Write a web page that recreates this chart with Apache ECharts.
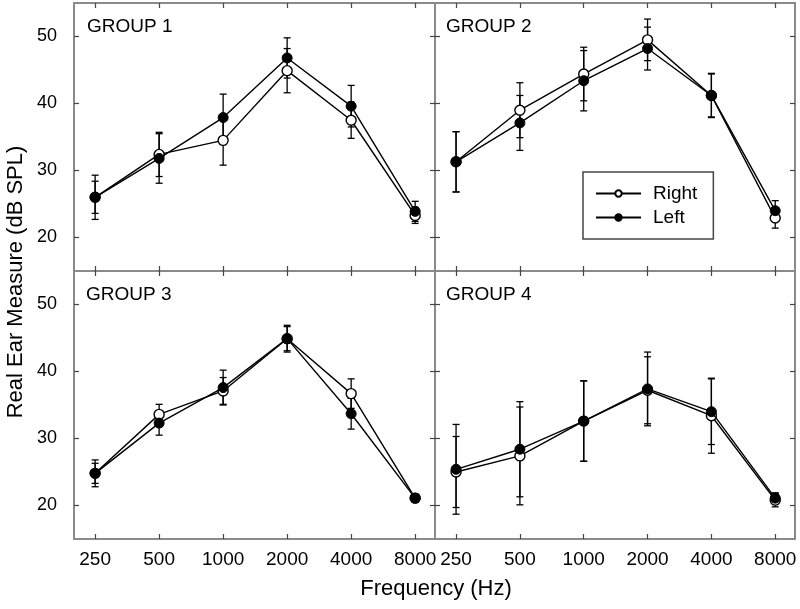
<!DOCTYPE html>
<html>
<head>
<meta charset="utf-8">
<script src="https://cdn.jsdelivr.net/npm/echarts@6/dist/echarts.min.js"></script>
<style>
  html, body { margin: 0; padding: 0; background: #fff; }
  #chart { width: 800px; height: 609px; }
</style>
</head>
<body>
<div id="chart"></div>
<script>
// ---- Data ----
const freqLabels = ['250', '500', '1000', '2000', '4000', '8000'];
const yTicks = [20, 30, 40, 50];
const groupNames = ['GROUP 1', 'GROUP 2', 'GROUP 3', 'GROUP 4'];

const g1RightMean = [26.0, 32.4, 34.5, 44.9, 37.5, 23.3];
const g1RightErr  = [2.4, 3.3, 3.7, 3.3, 2.7, 1.2];
const g1LeftMean  = [26.0, 31.8, 37.9, 46.8, 39.6, 23.9];
const g1LeftErr   = [3.3, 3.7, 3.5, 3.0, 3.1, 1.5];

const g2RightMean = [31.3, 39.0, 44.4, 49.5, 41.2, 22.9];
const g2RightErr  = [4.5, 4.1, 4.0, 3.1, 3.3, 1.5];
const g2LeftMean  = [31.3, 37.1, 43.4, 48.2, 41.2, 24.0];
const g2LeftErr   = [4.5, 4.1, 4.5, 3.2, 3.2, 1.5];

const g3RightMean = [24.8, 33.6, 37.1, 44.9, 36.7, 21.1];
const g3RightErr  = [1.5, 1.5, 2.0, 1.8, 2.2, 0.5];
const g3LeftMean  = [24.8, 32.3, 37.6, 44.9, 33.7, 21.1];
const g3LeftErr   = [2.0, 1.8, 2.6, 2.0, 2.3, 0.6];

const g4RightMean = [25.0, 27.4, 32.6, 37.2, 33.4, 20.8];
const g4RightErr  = [5.3, 7.3, 6.0, 5.0, 5.6, 1.0];
const g4LeftMean  = [25.4, 28.4, 32.6, 37.4, 34.0, 21.1];
const g4LeftErr   = [6.7, 7.1, 6.0, 5.5, 4.9, 0.8];

const groups = [
  { right: g1RightMean, rightErr: g1RightErr, left: g1LeftMean, leftErr: g1LeftErr },
  { right: g2RightMean, rightErr: g2RightErr, left: g2LeftMean, leftErr: g2LeftErr },
  { right: g3RightMean, rightErr: g3RightErr, left: g3LeftMean, leftErr: g3LeftErr },
  { right: g4RightMean, rightErr: g4RightErr, left: g4LeftMean, leftErr: g4LeftErr }
];

// ---- Layout ----
const FONT = 'Liberation Sans, Arial, Helvetica, sans-serif';
const gridBoxes = [
  { left: 74,  top: 3,   width: 361, height: 268 },
  { left: 435, top: 3,   width: 360, height: 268 },
  { left: 74,  top: 271, width: 361, height: 268 },
  { left: 435, top: 271, width: 360, height: 268 }
];
const XMIN = -0.33, XMAX = 5.31, YMIN = 15, YMAX = 55;
const tickIdx = freqLabels.map((_, i) => i);
const frameColor = '#8a8a8a';
const tickColor = '#444';

const grid = gridBoxes.map(b => ({ left: b.left, top: b.top, width: b.width, height: b.height, containLabel: false }));
const xAxis = [], yAxis = [];
gridBoxes.forEach((b, g) => {
  const showX = g >= 2, showY = (g % 2) === 0;
  const xBase = {
    type: 'value', gridIndex: g, min: XMIN, max: XMAX,
    splitLine: { show: false },
    axisLine: { show: true, onZero: false, lineStyle: { color: frameColor, width: 2 } },
    axisTick: { show: true, inside: true, length: 5, customValues: tickIdx, lineStyle: { color: tickColor, width: 1.2 } }
  };
  xAxis.push(Object.assign({}, xBase, {
    position: 'bottom',
    axisLabel: {
      show: showX, customValues: tickIdx, margin: 11,
      formatter: v => freqLabels[Math.round(v)],
      fontFamily: FONT, fontSize: 19, color: '#000'
    }
  }));
  xAxis.push(Object.assign({}, xBase, { position: 'top', axisLabel: { show: false } }));
  const yBase = {
    type: 'value', gridIndex: g, min: YMIN, max: YMAX,
    splitLine: { show: false },
    axisLine: { show: true, onZero: false, lineStyle: { color: frameColor, width: 2 } },
    axisTick: { show: true, inside: true, length: 5, customValues: yTicks, lineStyle: { color: tickColor, width: 1.2 } }
  };
  yAxis.push(Object.assign({}, yBase, {
    position: 'left',
    axisLabel: { show: showY, customValues: yTicks, margin: 17, fontFamily: FONT, fontSize: 18, color: '#000' }
  }));
  yAxis.push(Object.assign({}, yBase, { position: 'right', axisLabel: { show: false } }));
});

function errRender(params, api) {
  const x = api.value(0), lo = api.value(1), hi = api.value(2);
  const pLo = api.coord([x, lo]);
  const pHi = api.coord([x, hi]);
  const w = 3.5;
  const style = { stroke: '#000', lineWidth: 1.3, fill: null };
  return {
    type: 'group',
    children: [
      { type: 'line', shape: { x1: pLo[0], y1: pLo[1], x2: pHi[0], y2: pHi[1] }, style },
      { type: 'line', shape: { x1: pLo[0] - w, y1: pLo[1], x2: pLo[0] + w, y2: pLo[1] }, style },
      { type: 'line', shape: { x1: pHi[0] - w, y1: pHi[1], x2: pHi[0] + w, y2: pHi[1] }, style }
    ]
  };
}

const series = [];
groups.forEach((gr, g) => {
  const ax = { xAxisIndex: 2 * g, yAxisIndex: 2 * g };
  series.push(Object.assign({
    type: 'custom', name: 'errR' + g, renderItem: errRender, z: 1, silent: true,
    data: gr.right.map((m, i) => [i, m - gr.rightErr[i], m + gr.rightErr[i]])
  }, ax));
  series.push(Object.assign({
    type: 'custom', name: 'errL' + g, renderItem: errRender, z: 1, silent: true,
    data: gr.left.map((m, i) => [i, m - gr.leftErr[i], m + gr.leftErr[i]])
  }, ax));
  series.push(Object.assign({
    type: 'line', name: 'Right', z: 3,
    data: gr.right.map((m, i) => [i, m]),
    symbol: 'circle', symbolSize: 10, showAllSymbol: true,
    lineStyle: { color: '#000', width: 1.4 },
    itemStyle: { color: '#fff', borderColor: '#000', borderWidth: 1.4 },
    emphasis: { disabled: true }
  }, ax));
  series.push(Object.assign({
    type: 'line', name: 'Left', z: 4,
    data: gr.left.map((m, i) => [i, m]),
    symbol: 'circle', symbolSize: 10, showAllSymbol: true,
    lineStyle: { color: '#000', width: 1.4 },
    itemStyle: { color: '#000', borderColor: '#000', borderWidth: 1 },
    emphasis: { disabled: true }
  }, ax));
});

const groupLabelPos = [[87, 27], [446, 27], [86, 295], [446, 295]];
const graphic = groupNames.map((t, i) => ({
  type: 'text', x: groupLabelPos[i][0], y: groupLabelPos[i][1],
  style: { text: t, font: '19px ' + FONT, fill: '#000', textAlign: 'left', textVerticalAlign: 'middle' }
}));
graphic.push({
  type: 'text', x: 436, y: 589,
  style: { text: 'Frequency (Hz)', font: '22px ' + FONT, fill: '#000', textAlign: 'center', textVerticalAlign: 'middle' }
});
graphic.push({
  type: 'text', x: 16, y: 282, rotation: Math.PI / 2,
  style: { text: 'Real Ear Measure (dB SPL)', font: '22px ' + FONT, fill: '#000', textAlign: 'center', textVerticalAlign: 'middle' }
});

const chart = echarts.init(document.getElementById('chart'), null, { renderer: 'canvas' });
chart.setOption({
  animation: false,
  backgroundColor: '#fff',
  grid, xAxis, yAxis, series, graphic,
  legend: {
    data: ['Right', 'Left'],
    orient: 'vertical',
    left: 583, top: 172,
    padding: [12, 16, 12, 12],
    itemGap: 5,
    itemWidth: 45, itemHeight: 8,
    borderColor: '#444', borderWidth: 1.5,
    backgroundColor: '#fff',
    selectedMode: false,
    textStyle: { fontFamily: FONT, fontSize: 19, color: '#000', lineHeight: 18, padding: [0, 0, 0, 7] }
  }
});
</script>
</body>
</html>
